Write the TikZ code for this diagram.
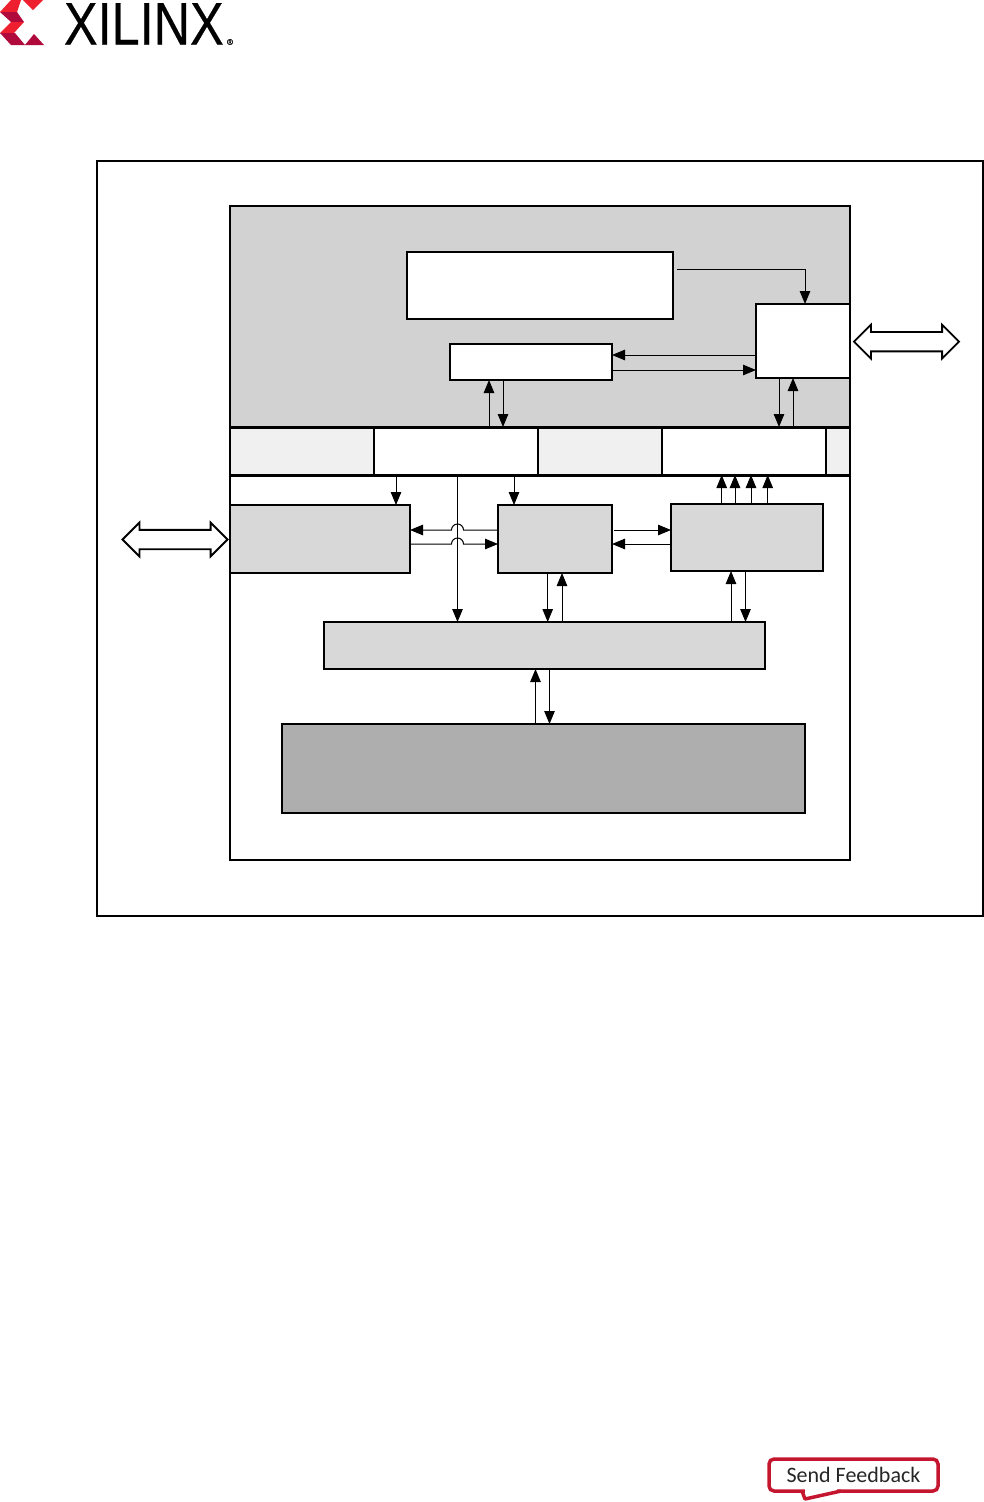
\documentclass[tikz,border=0pt]{standalone}
\usepackage{fontspec}
\setmainfont{Liberation Sans}
\newfontfamily\feedbackfont{Carlito}
\newfontfamily\logofont[FakeBold=0.35]{Liberation Sans}
\usetikzlibrary{arrows.meta, positioning, shapes.arrows}
\definecolor{colorPlane}{RGB}{210, 210, 210}
\definecolor{colorLight}{RGB}{240, 240, 240}
\definecolor{colorBlock}{RGB}{216, 216, 216}
\definecolor{colorBase}{RGB}{174, 174, 174}
\definecolor{logoBright}{RGB}{238, 32, 48}
\definecolor{logoDark}{RGB}{176, 10, 60}
\definecolor{colorFeedback}{RGB}{196, 23, 47}
\begin{document}
\begin{tikzpicture}[
    x=1pt, y=-1pt,
    every node/.style={outer sep=0pt, inner sep=0pt},
    block/.style={draw=black, line width=1.8pt, fill=white},
    plane/.style={block, fill=colorPlane},
    greybox/.style={block, fill=colorBlock},
    basebox/.style={block, fill=colorBase},
    cell/.style={draw=black, line width=2pt, minimum height=48pt, fill=colorLight},
    whitecell/.style={cell, fill=white},
    bus/.style={
        double arrow, draw=black, line width=1.8pt, fill=white,
        minimum height=105pt, minimum width=32pt, inner ysep=8.75pt,
        double arrow head extend=7.25pt
    },
    arrow/.style={-{Triangle[length=13pt, width=10.5pt]}, line width=1pt}
]
    \useasboundingbox (0,0) rectangle (984,1502);

    % logo
    \fill[logoBright] (0,12) -- (11,0) -- (21,0) -- (17,12) -- cycle;
    \fill[logoBright] (23,0) -- (43,0) -- (33,10) -- cycle;
    \fill[logoDark] (0,12) -- (17,12) -- (24,22) -- (11,22) -- cycle;
    \fill[logoBright] (0,33) -- (11,22) -- (24,22) -- (14,33) -- cycle;
    \fill[logoDark] (0,33) -- (15,33) -- (25,45) -- (11,45) -- cycle;
    \fill[logoDark] (25,45) -- (34,34) -- (44,45) -- cycle;
    \node[anchor=base west, font=\logofont\fontsize{60}{60}\selectfont, xscale=0.84] (logotext) at (64,44.5) {XILINX};
    \node[font=\logofont\fontsize{8}{8}\selectfont] (logomark) at (230,42) {®};

    \node[block, minimum width=886pt, minimum height=755pt] (frame) at (540,538.5) {};
    \node[plane, minimum width=620pt, minimum height=221pt] (top) at (540,316.5) {};
    \node[block, minimum width=620pt, minimum height=385pt] (lower) at (540,667.5) {};

    \node[block, minimum width=266pt, minimum height=67pt] (upperbox) at (540,285.5) {};
    \node[block, minimum width=162pt, minimum height=36pt] (smallbox) at (531,362) {};
    \node[block, minimum width=94pt, minimum height=74pt] (sidebox) at (803,341) {};

    \node[cell, minimum width=144pt] (stripA) at (302,451) {};
    \node[whitecell, minimum width=164pt, right=0pt of stripA] (stripB) {};
    \node[cell, minimum width=124pt, right=0pt of stripB] (stripC) {};
    \node[whitecell, minimum width=164pt, right=0pt of stripC] (stripD) {};
    \node[cell, minimum width=24pt, right=0pt of stripD] (stripE) {};
    \draw[line width=3pt] (stripA.north west) -- (stripE.north east);
    \draw[line width=3pt] (stripA.south west) -- (stripE.south east);

    \node[greybox, minimum width=180pt, minimum height=68pt] (leftbox) at (320,539) {};
    \node[greybox, minimum width=114pt, minimum height=68pt] (midbox) at (555,539) {};
    \node[greybox, minimum width=152pt, minimum height=67pt] (rightbox) at (747,537.5) {};
    \node[greybox, minimum width=441pt, minimum height=47pt] (busbox) at (544.5,645.5) {};
    \node[basebox, minimum width=523pt, minimum height=89pt] (base) at (543.5,768.5) {};

    \node[bus] (busleft) at (175,539.5) {};
    \node[bus] (busright) at (906.5,341.7) {};

    \draw[arrow] ([shift={(4pt,16pt)}]upperbox.east) -| ([xshift=2pt]sidebox.north);
    \draw[arrow] ([yshift=-14pt]sidebox.west) -- ([yshift=7pt]smallbox.east);
    \draw[arrow] ([yshift=-8pt]smallbox.east) -- ([yshift=-29pt]sidebox.west);
    \draw[arrow] ([xshift=33pt]stripB.north) -- ([xshift=-42pt]smallbox.south);
    \draw[arrow] ([xshift=-28pt]smallbox.south) -- ([xshift=47pt]stripB.north);
    \draw[arrow] ([xshift=-24pt]sidebox.south) -- ([xshift=35pt]stripD.north);
    \draw[arrow] ([xshift=49pt]stripD.north) -- ([xshift=-10pt]sidebox.south);

    \draw[arrow] ([xshift=-60pt]stripB.south) -- ([xshift=76pt]leftbox.north);
    \draw[arrow] ([xshift=58pt]stripB.south) -- ([xshift=-41pt]midbox.north);
    \draw[arrow] ([xshift=1.5pt]stripB.south) -- ([xshift=-87pt]busbox.north);

    \draw[arrow] ([yshift=9pt]midbox.west) -- ++(-34.5pt,0pt) arc[start angle=0, end angle=180, radius=6pt] -- ([yshift=9pt]leftbox.east);
    \draw[arrow] ([yshift=-5pt]leftbox.east) -- ++(41.5pt,0pt) arc[start angle=180, end angle=0, radius=6pt] -- ([yshift=-5pt]midbox.west);
    \draw[arrow] ([shift={(2pt,9pt)}]midbox.east) -- ([yshift=7.5pt]rightbox.west);
    \draw[arrow] ([yshift=-6.5pt]rightbox.west) -- ([yshift=-5pt]midbox.east);

    \draw[arrow] ([xshift=-25.3pt]rightbox.north) -- ([xshift=-22.3pt]stripD.south);
    \draw[arrow] ([xshift=-12pt]rightbox.north) -- ([xshift=-9pt]stripD.south);
    \draw[arrow] ([xshift=4pt]rightbox.north) -- ([xshift=7pt]stripD.south);
    \draw[arrow] ([xshift=20.7pt]rightbox.north) -- ([xshift=23.7pt]stripD.south);

    \draw[arrow] ([xshift=186.5pt]busbox.north) -- ([xshift=-16pt]rightbox.south);
    \draw[arrow] ([xshift=-1.5pt]rightbox.south) -- ([xshift=201pt]busbox.north);
    \draw[arrow] ([xshift=-7.3pt]midbox.south) -- ([xshift=3.2pt]busbox.north);
    \draw[arrow] ([xshift=17.5pt]busbox.north) -- ([xshift=7pt]midbox.south);
    \draw[arrow] ([xshift=-8pt]base.north) -- ([xshift=-9pt]busbox.south);
    \draw[arrow] ([xshift=5pt]busbox.south) -- ([xshift=6pt]base.north);

    % feedback button
    \node[draw=colorFeedback, line width=3.5pt, rounded corners=5pt, minimum width=169pt, minimum height=32pt,
        font=\feedbackfont\fontsize{22}{22}\selectfont, text=black!85] (feedback) at (853.5,1475) {Send Feedback};
    \draw[white, line width=4.5pt] ([xshift=36pt]feedback.south west) -- ([xshift=68pt]feedback.south west);
    \draw[colorFeedback, line width=3.5pt, line join=round] ([xshift=33pt]feedback.south west) -- ++(3,8) -- ([xshift=72pt]feedback.south west);
\end{tikzpicture}
\end{document}
